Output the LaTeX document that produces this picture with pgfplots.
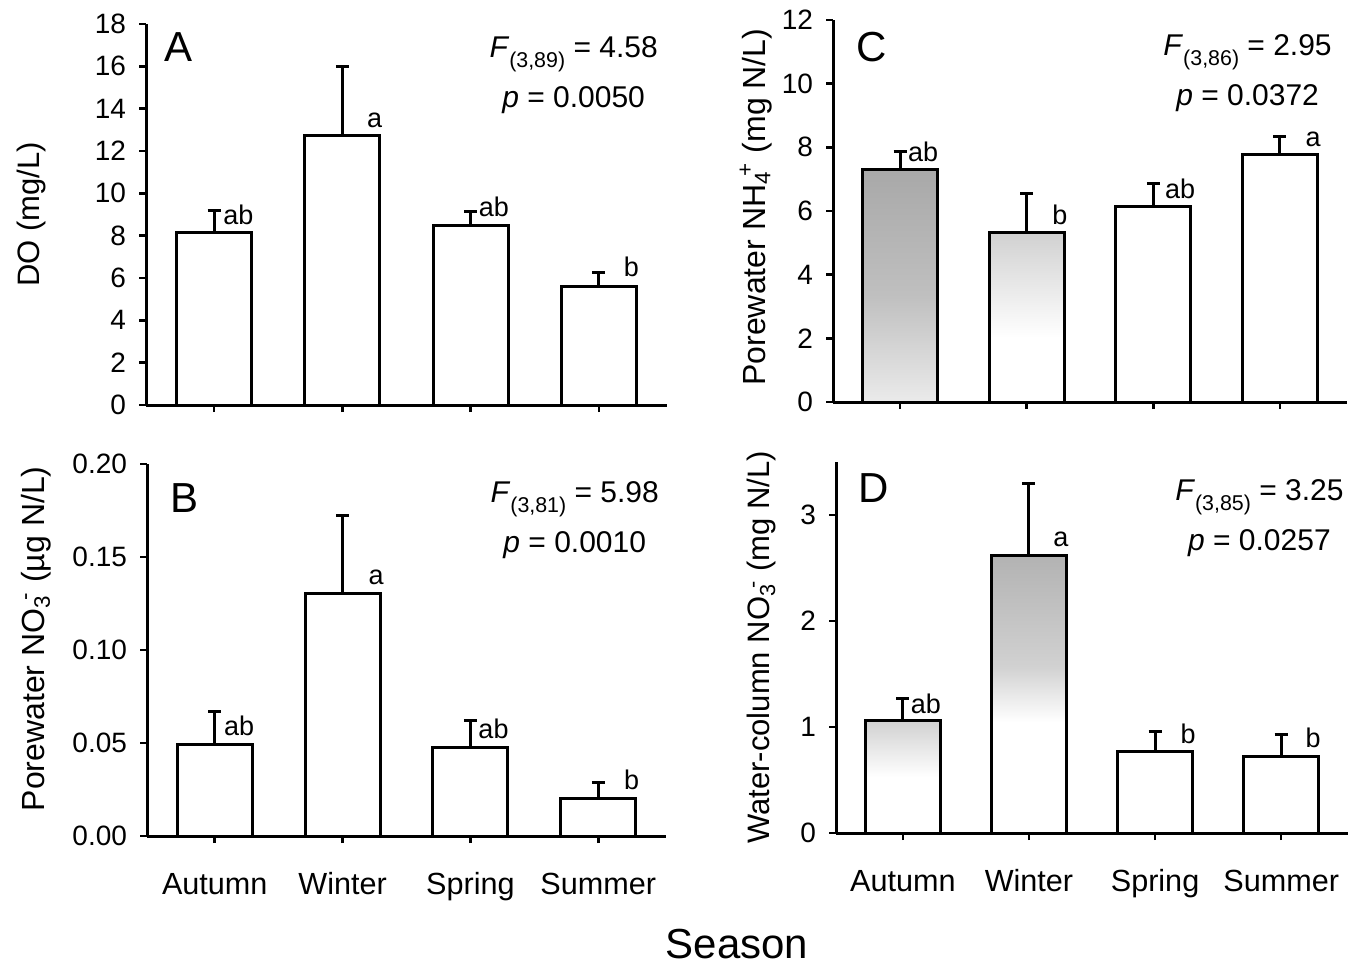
\documentclass[border=0pt]{standalone}
\usepackage{fontspec}
\setmainfont{Liberation Sans}
\usepackage{pgfplots}
\pgfplotsset{compat=1.18}

\newcommand\tickfont{\fontsize{14}{16}\selectfont}
\newcommand\catfont{\fontsize{15.3}{18}\selectfont}
\newcommand\labfont{\fontsize{16}{18}\selectfont}
\newcommand\annfont{\fontsize{15}{25}\selectfont}
\newcommand\letfont{\fontsize{13.5}{15}\selectfont}
\newcommand\panfont{\fontsize{21}{24}\selectfont}
\newcommand\fsub[1]{\raisebox{-5pt}{\fontsize{10.7}{12}\selectfont #1}}

% shadings for the grey (scanned) bars: 25bp = bar bottom, 75bp = bar top
\pgfdeclareverticalshading{shCa}{100bp}{color(0bp)=(black!8); color(25bp)=(black!8); color(48bp)=(black!25); color(75bp)=(black!34); color(100bp)=(black!34)}
\pgfdeclareverticalshading{shCw}{100bp}{color(0bp)=(white); color(25bp)=(white); color(44bp)=(white); color(75bp)=(black!18); color(100bp)=(black!18)}
\pgfdeclareverticalshading{shDa}{100bp}{color(0bp)=(white); color(25bp)=(white); color(50bp)=(white); color(75bp)=(black!18); color(100bp)=(black!18)}
\pgfdeclareverticalshading{shDw}{100bp}{color(0bp)=(white); color(25bp)=(white); color(45bp)=(white); color(55bp)=(black!18); color(75bp)=(black!30); color(100bp)=(black!30)}

\pgfplotsset{
  panel/.style={
    scale only axis, anchor=south west,
    axis x line*=bottom, axis y line*=left,
    axis line style={line width=1.5pt},
    xmin=-0.53, xmax=3.53, ymin=0,
    xtick={0,1,2,3},
    tick align=outside, major tick length=3.5pt,
    every tick/.style={black, line width=1.3pt},
    tick label style={font=\tickfont},
    x tick label style={font=\catfont, text height=11pt, text depth=3.5pt, yshift=-11pt},
    y tick label style={xshift=-3pt},
    /pgf/number format/assume math mode=true,
    ylabel style={font=\labfont},
    clip=false,
  },
  mybar/.style={ybar, bar shift=0pt, bar width=37.5pt, draw=black, line width=1.5pt, fill=white,
    error bars/.cd, y dir=plus, y explicit,
    error bar style={line width=1.5pt, black},
    error mark options={rotate=90, mark size=3.25pt, line width=1.5pt, black},
    /pgfplots/.cd},
}

\begin{document}
\begin{tikzpicture}
\useasboundingbox (0,0) rectangle (682pt,483pt);

% ---------------- Panel A ----------------
\begin{axis}[panel, at={(73pt,280.5pt)}, width=260.5pt, height=190.5pt,
  ymax=18, ytick={0,2,...,18}, xticklabels={},
  ylabel={DO (mg/L)}, ylabel style={font=\fontsize{15.5}{18}\selectfont, at={(axis description cs:-0.205,0.5)}, anchor=base}]
\addplot[mybar] coordinates {(0,8.14) +- (0,1.07)};
\addplot[mybar] coordinates {(1,12.71) +- (0,3.27)};
\addplot[mybar] coordinates {(2,8.46) +- (0,0.66)};
\addplot[mybar] coordinates {(3,5.62) +- (0,0.66)};
\node[anchor=north west, font=\panfont, inner sep=0] at (rel axis cs:0.035,0.979) {A};
\node[anchor=north east, align=center, font=\annfont, inner sep=0] at (rel axis cs:0.983,0.968) {\textit{F}\fsub{(3,89)} = 4.58\\\textit{p} = 0.0050};
\node[anchor=base west, font=\letfont, inner sep=0] at (axis cs:0.07,8.55) {ab};
\node[anchor=base west, font=\letfont, inner sep=0] at (axis cs:1.19,13.1) {a};
\node[anchor=base west, font=\letfont, inner sep=0] at (axis cs:2.06,8.9) {ab};
\node[anchor=base west, font=\letfont, inner sep=0] at (axis cs:3.19,6.07) {b};
\end{axis}

% ---------------- Panel B ----------------
\begin{axis}[panel, at={(73.5pt,65pt)}, width=259.5pt, height=186pt,
  ymax=0.2, ytick={0,0.05,0.1,0.15,0.2}, scaled y ticks=false,
  y tick label style={/pgf/number format/.cd, fixed, fixed zerofill, precision=2, /tikz/.cd},
  xticklabels={Autumn,Winter,Spring,Summer},
  ylabel={Porewater NO\textsubscript{3}\hspace{-2.5pt}\textsuperscript{-} (µg N/L)},
  ylabel style={at={(axis description cs:-0.197,0.53)}, anchor=base}]
\addplot[mybar] coordinates {(0,0.049) +- (0,0.0177)};
\addplot[mybar] coordinates {(1,0.1306) +- (0,0.0416)};
\addplot[mybar] coordinates {(2,0.0477) +- (0,0.0142)};
\addplot[mybar] coordinates {(3,0.0203) +- (0,0.0084)};
\node[anchor=north west, font=\panfont, inner sep=0] at (rel axis cs:0.044,0.949) {B};
\node[anchor=north east, align=center, font=\annfont, inner sep=0] at (rel axis cs:0.987,0.954) {\textit{F}\fsub{(3,81)} = 5.98\\\textit{p} = 0.0010};
\node[anchor=base west, font=\letfont, inner sep=0] at (axis cs:0.07,0.0538) {ab};
\node[anchor=base west, font=\letfont, inner sep=0] at (axis cs:1.2,0.135) {a};
\node[anchor=base west, font=\letfont, inner sep=0] at (axis cs:2.06,0.0526) {ab};
\node[anchor=base west, font=\letfont, inner sep=0] at (axis cs:3.2,0.0248) {b};
\end{axis}

% ---------------- Panel C ----------------
\begin{axis}[panel, at={(416.5pt,282pt)}, width=257pt, height=191pt,
  ymax=12, ytick={0,2,...,12}, xticklabels={},
  ylabel={Porewater NH\textsubscript{4}\hspace{-2.5pt}\textsuperscript{+} (mg N/L)},
  ylabel style={at={(axis description cs:-0.132,0.51)}, anchor=base}]
\addplot[shade, shading=shCa, mybar] coordinates {(0,7.31) +- (0,0.57)};
\addplot[shade, shading=shCw, mybar] coordinates {(1,5.31) +- (0,1.24)};
\addplot[mybar] coordinates {(2,6.13) +- (0,0.73)};
\addplot[mybar] coordinates {(3,7.79) +- (0,0.56)};
\node[anchor=north west, font=\panfont, inner sep=0] at (rel axis cs:0.045,0.969) {C};
\node[anchor=north east, align=center, font=\annfont, inner sep=0] at (rel axis cs:0.971,0.963) {\textit{F}\fsub{(3,86)} = 2.95\\\textit{p} = 0.0372};
\node[anchor=base west, font=\letfont, inner sep=0] at (axis cs:0.06,7.55) {ab};
\node[anchor=base west, font=\letfont, inner sep=0] at (axis cs:1.2,5.59) {b};
\node[anchor=base west, font=\letfont, inner sep=0] at (axis cs:2.09,6.39) {ab};
\node[anchor=base west, font=\letfont, inner sep=0] at (axis cs:3.2,8.04) {a};
\end{axis}

% ---------------- Panel D ----------------
\begin{axis}[panel, at={(418pt,66.5pt)}, width=256pt, height=185.5pt,
  ymax=3.5, ytick={0,1,2,3},
  xticklabels={Autumn,Winter,Spring,Summer},
  ylabel={Water-column NO\textsubscript{3}\hspace{-2.5pt}\textsuperscript{-} (mg N/L)},
  ylabel style={font=\fontsize{15.5}{18}\selectfont, at={(axis description cs:-0.129,0.5)}, anchor=base}]
\addplot[shade, shading=shDa, mybar] coordinates {(0,1.057) +- (0,0.21)};
\addplot[shade, shading=shDw, mybar] coordinates {(1,2.62) +- (0,0.676)};
\addplot[mybar] coordinates {(2,0.767) +- (0,0.186)};
\addplot[mybar] coordinates {(3,0.723) +- (0,0.205)};
\node[anchor=north west, font=\panfont, inner sep=0] at (rel axis cs:0.043,0.97) {D};
\node[anchor=north east, align=center, font=\annfont, inner sep=0] at (rel axis cs:0.992,0.954) {\textit{F}\fsub{(3,85)} = 3.25\\\textit{p} = 0.0257};
\node[anchor=base west, font=\letfont, inner sep=0] at (axis cs:0.06,1.126) {ab};
\node[anchor=base west, font=\letfont, inner sep=0] at (axis cs:1.19,2.70) {a};
\node[anchor=base west, font=\letfont, inner sep=0] at (axis cs:2.2,0.843) {b};
\node[anchor=base west, font=\letfont, inner sep=0] at (axis cs:3.19,0.81) {b};
\end{axis}

\node[anchor=base, font=\fontsize{21}{24}\selectfont, inner sep=0] at (368.5pt,4pt) {Season};
\end{tikzpicture}
\end{document}
